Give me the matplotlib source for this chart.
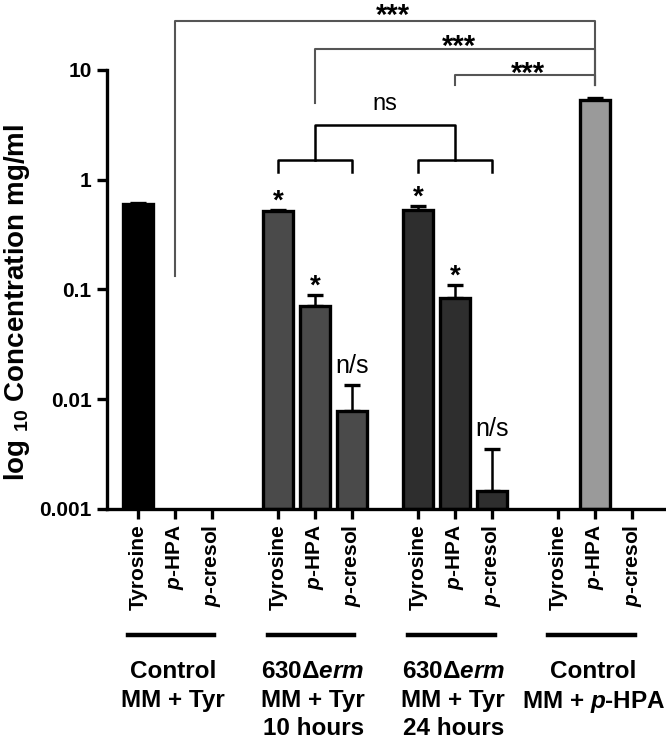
import numpy as np
import matplotlib.pyplot as plt
from matplotlib.transforms import blended_transform_factory

plt.rcParams['font.family'] = ['Liberation Sans', 'DejaVu Sans']
plt.rcParams['mathtext.fontset'] = 'custom'
plt.rcParams['mathtext.rm'] = 'Liberation Sans:bold'
plt.rcParams['mathtext.it'] = 'Liberation Sans:italic:bold'
plt.rcParams['mathtext.bf'] = 'Liberation Sans:bold'

# data (mg/ml), nan = not detected
compounds = ['Tyrosine', r'$\mathit{p}$-HPA', r'$\mathit{p}$-cresol']
groups = ['Control\nMM + Tyr',
          '630Δ$\\mathit{erm}$\nMM + Tyr\n10 hours',
          '630Δ$\\mathit{erm}$\nMM + Tyr\n24 hours',
          'Control\nMM + $\\mathit{p}$-HPA']
ctrl_tyr_mean = [0.60, np.nan, np.nan]
ctrl_tyr_err = [0.02, 0, 0]
h10_mean = [0.52, 0.071, 0.0078]
h10_err = [0.012, 0.018, 0.0056]
h24_mean = [0.53, 0.083, 0.00145]
h24_err = [0.045, 0.027, 0.0021]
ctrl_hpa_mean = [np.nan, 5.3, np.nan]
ctrl_hpa_err = [0, 0.22, 0]
bar_marks = [None, None, None, '*', '*', 'n/s', '*', '*', 'n/s', None, None, None]

means = [ctrl_tyr_mean, h10_mean, h24_mean, ctrl_hpa_mean]
errs = [ctrl_tyr_err, h10_err, h24_err, ctrl_hpa_err]
colors = ['#000000', '#4a4a4a', '#2e2e2e', '#9a9a9a']

fig = plt.figure(figsize=(6.66, 7.4), dpi=100)
ax = fig.add_axes([107/666, 1-509/740, 559/666, 439/740])
ax.set_yscale('log')

base = 1e-3
gap = 3.8
xs = []
for g in range(4):
    x = g*gap + np.arange(3)
    xs.extend(x)
    m = np.array(means[g], dtype=float)
    e = np.array(errs[g], dtype=float)
    ok = ~np.isnan(m)
    ax.bar(x[ok], m[ok] - base, width=0.82, bottom=base, color=colors[g],
           edgecolor='black', linewidth=2.4, zorder=2)
    ax.errorbar(x[ok], m[ok], yerr=[np.zeros(ok.sum()), e[ok]], fmt='none',
                ecolor='black', elinewidth=1.8, capsize=6, capthick=2.4, zorder=1)
xs = np.array(xs)
allm = np.concatenate(means)
alle = np.concatenate(errs)

for x, m, e, s in zip(xs, allm, alle, bar_marks):
    if s is None:
        continue
    if s == '*':
        ax.annotate(s, (x, m + e), xytext=(0, 6), textcoords='offset points',
                    ha='center', va='center', fontsize=20, fontweight='bold')
    else:
        ax.annotate(s, (x, m + e), xytext=(0, 14), textcoords='offset points',
                    ha='center', va='center', fontsize=18)

ax.set_xlim(-0.84, 14.32)
ax.set_ylim(1e-3, 10)
ax.set_xticks(xs)
ax.set_xticklabels(compounds*4, rotation=90, fontsize=15, fontweight='bold')
ax.set_yticks([1e-3, 1e-2, 1e-1, 1, 10])
ax.set_yticklabels(['0.001', '0.01', '0.1', '1', '10'], fontsize=15, fontweight='bold')
ax.minorticks_off()
ax.tick_params(width=2.4, length=7.5, pad=3.5)
for s in ['top', 'right']:
    ax.spines[s].set_visible(False)
for s in ['left', 'bottom']:
    ax.spines[s].set_linewidth(2.4)

ax.set_ylabel('log $_{10}$ Concentration mg/ml', fontsize=20, fontweight='bold')
ax.yaxis.set_label_coords(-0.135, 0.47)

# group underlines and labels
tr = blended_transform_factory(ax.transData, ax.transAxes)
for g in range(4):
    c = g*gap + 0.9
    ax.plot([c - 1.17, c + 1.17], [-0.287, -0.287], color='black', lw=3.2,
            transform=tr, clip_on=False)
    ax.text(g*gap + 1 - 0.05, -0.345, groups[g], transform=tr, ha='center', va='top',
            fontsize=17.5, fontweight='bold', linespacing=1.3)

# significance brackets
def L(v):
    return 10**v

gray = '#555555'
ax.plot([1, 1, 12.4, 12.4], [L(-0.88), L(1.445), L(1.445), L(0.864)],
        color=gray, lw=1.5, clip_on=False)
ax.plot([4.8, 4.8, 12.4, 12.4], [L(0.70), L(1.19), L(1.19), L(0.864)],
        color=gray, lw=1.5, clip_on=False)
ax.plot([8.6, 8.6, 12.4, 12.4], [L(0.864), L(0.955), L(0.955), L(0.864)],
        color=gray, lw=1.5, clip_on=False)
ax.text(6.92, L(1.49), '***', ha='center', va='center', fontsize=21, fontweight='bold')
ax.text(8.7, L(1.21), '***', ha='center', va='center', fontsize=21, fontweight='bold')
ax.text(10.58, L(0.96), '***', ha='center', va='center', fontsize=21, fontweight='bold')

for a in [3.8, 7.6]:
    ax.plot([a, a, a + 2, a + 2], [L(0.073), L(0.182), L(0.182), L(0.073)],
            color='black', lw=1.8, clip_on=False)
ax.plot([4.8, 4.8, 8.6, 8.6], [L(0.182), L(0.5), L(0.5), L(0.182)],
        color='black', lw=1.8, clip_on=False)
ax.text(6.7, L(0.69), 'ns', ha='center', va='center', fontsize=17)

fig.savefig('out.png', dpi=100)
